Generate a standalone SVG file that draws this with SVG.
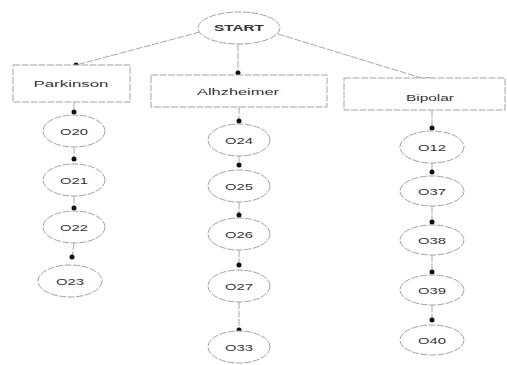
<svg xmlns="http://www.w3.org/2000/svg" width="507" height="365" viewBox="0 0 507 365">
<defs>
<style>
.shape{fill:#fff;stroke:#a2a2a2;stroke-width:1;stroke-dasharray:7 1.5}
.conn{fill:none;stroke:#a8a8a8;stroke-width:1;stroke-dasharray:7 1.5}
.lbl{font-family:"Liberation Sans",Arial,sans-serif;font-size:8.5px;fill:#333;text-anchor:middle}
</style>
<marker id="dot" markerWidth="6" markerHeight="6" refX="3" refY="3" markerUnits="userSpaceOnUse">
<circle cx="3" cy="3" r="2.5" fill="#111"/>
</marker>
</defs>
<rect width="507" height="365" fill="#fff"/>
<g id="connectors">
<line class="conn" x1="200" y1="32" x2="76" y2="65" marker-end="url(#dot)"/>
<line class="conn" x1="238" y1="44" x2="238" y2="73" marker-end="url(#dot)"/>
<line class="conn" x1="278" y1="34" x2="428" y2="80" marker-end="url(#dot)"/>
<line class="conn" x1="74" y1="102" x2="74" y2="112" marker-end="url(#dot)"/>
<line class="conn" x1="74" y1="147" x2="74" y2="159" marker-end="url(#dot)"/>
<line class="conn" x1="74" y1="196" x2="74" y2="208" marker-end="url(#dot)"/>
<line class="conn" x1="74" y1="243" x2="72" y2="257" marker-end="url(#dot)"/>
<line class="conn" x1="239" y1="107" x2="239" y2="121" marker-end="url(#dot)"/>
<line class="conn" x1="239" y1="155" x2="239" y2="165" marker-end="url(#dot)"/>
<line class="conn" x1="239" y1="202" x2="239" y2="215" marker-end="url(#dot)"/>
<line class="conn" x1="239" y1="250" x2="239" y2="265" marker-end="url(#dot)"/>
<line class="conn" x1="239" y1="302" x2="239" y2="330" marker-end="url(#dot)"/>
<line class="conn" x1="432" y1="110" x2="432" y2="128" marker-end="url(#dot)"/>
<line class="conn" x1="432" y1="163" x2="432" y2="172" marker-end="url(#dot)"/>
<line class="conn" x1="432" y1="206" x2="432" y2="222" marker-end="url(#dot)"/>
<line class="conn" x1="432" y1="255" x2="432" y2="272" marker-end="url(#dot)"/>
<line class="conn" x1="432" y1="305" x2="432" y2="320" marker-end="url(#dot)"/>
</g>
<g id="start"><ellipse class="shape" cx="239" cy="28" rx="41" ry="16"/><text class="lbl" x="239" y="31" textLength="50" lengthAdjust="spacingAndGlyphs" font-weight="bold">START</text></g>
<g id="parkinson"><rect class="shape" x="13" y="65" width="117" height="37"/><text class="lbl" x="71" y="87" textLength="75" lengthAdjust="spacingAndGlyphs">Parkinson</text></g>
<g id="alhzheimer"><rect class="shape" x="151" y="75" width="176" height="32"/><text class="lbl" x="238" y="95" textLength="82" lengthAdjust="spacingAndGlyphs">Alhzheimer</text></g>
<g id="bipolar"><rect class="shape" x="344" y="78" width="161" height="32"/><text class="lbl" x="430" y="101" textLength="48" lengthAdjust="spacingAndGlyphs">Bipolar</text></g>
<g id="o20"><ellipse class="shape" cx="74" cy="131" rx="31" ry="16"/><text class="lbl" x="74" y="134.5" textLength="28" lengthAdjust="spacingAndGlyphs">O20</text></g>
<g id="o21"><ellipse class="shape" cx="74" cy="180" rx="31" ry="16"/><text class="lbl" x="74" y="183.5" textLength="28" lengthAdjust="spacingAndGlyphs">O21</text></g>
<g id="o22"><ellipse class="shape" cx="74" cy="227" rx="31" ry="16"/><text class="lbl" x="74" y="230.5" textLength="28" lengthAdjust="spacingAndGlyphs">O22</text></g>
<g id="o23"><ellipse class="shape" cx="70" cy="281" rx="32" ry="16"/><text class="lbl" x="70" y="284.5" textLength="28" lengthAdjust="spacingAndGlyphs">O23</text></g>
<g id="o24"><ellipse class="shape" cx="239" cy="140" rx="31" ry="16"/><text class="lbl" x="239" y="143.5" textLength="28" lengthAdjust="spacingAndGlyphs">O24</text></g>
<g id="o25"><ellipse class="shape" cx="239" cy="186" rx="31" ry="16"/><text class="lbl" x="239" y="189.5" textLength="28" lengthAdjust="spacingAndGlyphs">O25</text></g>
<g id="o26"><ellipse class="shape" cx="239" cy="234" rx="31" ry="16"/><text class="lbl" x="239" y="237.5" textLength="28" lengthAdjust="spacingAndGlyphs">O26</text></g>
<g id="o27"><ellipse class="shape" cx="239" cy="286" rx="31" ry="16"/><text class="lbl" x="239" y="289.5" textLength="28" lengthAdjust="spacingAndGlyphs">O27</text></g>
<g id="o33"><ellipse class="shape" cx="239" cy="347" rx="31" ry="16"/><text class="lbl" x="239" y="350.5" textLength="28" lengthAdjust="spacingAndGlyphs">O33</text></g>
<g id="o12"><ellipse class="shape" cx="432" cy="147" rx="32" ry="16"/><text class="lbl" x="432" y="150.5" textLength="28" lengthAdjust="spacingAndGlyphs">O12</text></g>
<g id="o37"><ellipse class="shape" cx="432" cy="191" rx="32" ry="15"/><text class="lbl" x="432" y="194.5" textLength="28" lengthAdjust="spacingAndGlyphs">O37</text></g>
<g id="o38"><ellipse class="shape" cx="432" cy="240" rx="32" ry="15"/><text class="lbl" x="432" y="243.5" textLength="28" lengthAdjust="spacingAndGlyphs">O38</text></g>
<g id="o39"><ellipse class="shape" cx="432" cy="290" rx="32" ry="15"/><text class="lbl" x="432" y="293.5" textLength="28" lengthAdjust="spacingAndGlyphs">O39</text></g>
<g id="o40"><ellipse class="shape" cx="432" cy="340" rx="32" ry="15"/><text class="lbl" x="432" y="343.5" textLength="28" lengthAdjust="spacingAndGlyphs">O40</text></g>
</svg>
